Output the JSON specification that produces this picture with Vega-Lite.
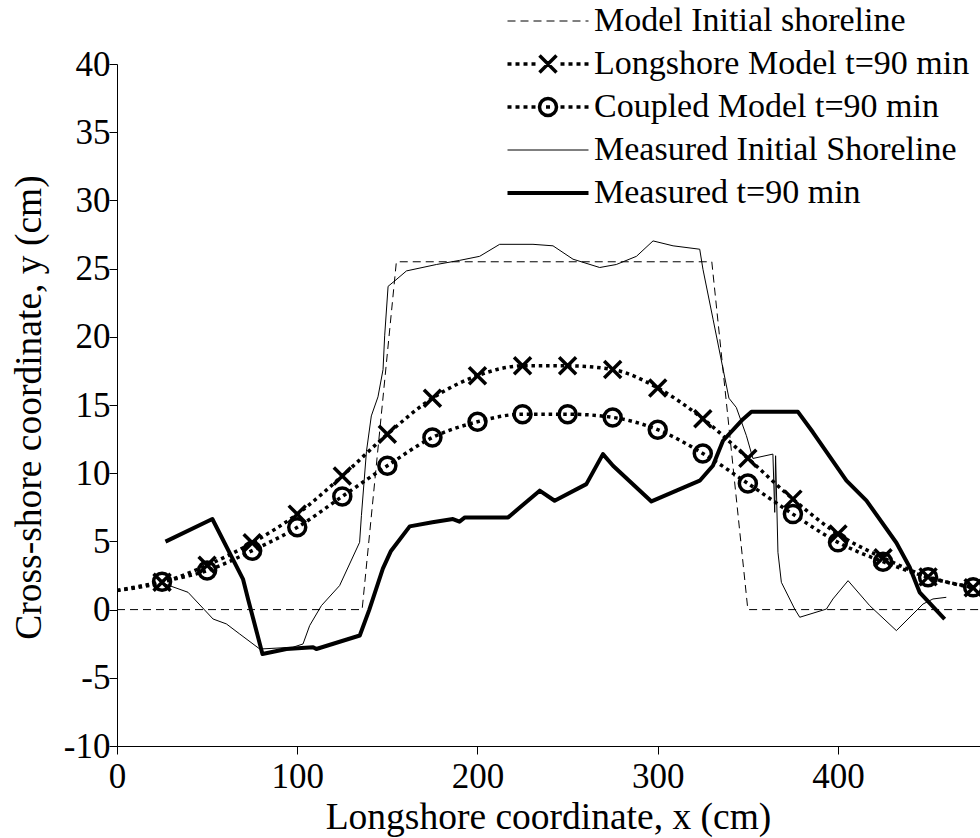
{
  "$schema": "https://vega.github.io/schema/vega-lite/v6.json",
  "autosize": {"type": "none"},
  "padding": {"left": 117, "top": 64, "right": 0, "bottom": 92},
  "width": 863,
  "height": 682,
  "background": "white",
  "config": {
    "view": {"stroke": null},
    "font": "Liberation Serif",
    "axis": {
      "grid": false,
      "domainColor": "black",
      "domainWidth": 1,
      "tickColor": "black",
      "tickWidth": 1,
      "tickSize": 8,
      "labelFont": "Liberation Serif",
      "labelFontSize": 35,
      "labelColor": "black",
      "labelFlush": false,
      "labelOverlap": false,
      "titleFont": "Liberation Serif",
      "titleFontSize": 37.5,
      "titleFontWeight": "normal",
      "titleColor": "black"
    }
  },
  "datasets": {
    "shoreline": [
      {"series": "Model Initial shoreline", "x": 0, "y": 0},
      {"series": "Model Initial shoreline", "x": 136, "y": 0},
      {"series": "Model Initial shoreline", "x": 155, "y": 25.5},
      {"series": "Model Initial shoreline", "x": 330, "y": 25.5},
      {"series": "Model Initial shoreline", "x": 350, "y": 0},
      {"series": "Model Initial shoreline", "x": 479, "y": 0},

      {"series": "Measured Initial Shoreline", "x": 26.5, "y": 1.88},
      {"series": "Measured Initial Shoreline", "x": 39.4, "y": 1.27},
      {"series": "Measured Initial Shoreline", "x": 53.3, "y": -0.69},
      {"series": "Measured Initial Shoreline", "x": 60.7, "y": -1.05},
      {"series": "Measured Initial Shoreline", "x": 68.1, "y": -1.79},
      {"series": "Measured Initial Shoreline", "x": 79.2, "y": -2.89},
      {"series": "Measured Initial Shoreline", "x": 97.6, "y": -2.76},
      {"series": "Measured Initial Shoreline", "x": 103.2, "y": -2.52},
      {"series": "Measured Initial Shoreline", "x": 106.9, "y": -1.17},
      {"series": "Measured Initial Shoreline", "x": 113.4, "y": 0.29},
      {"series": "Measured Initial Shoreline", "x": 123.5, "y": 1.76},
      {"series": "Measured Initial Shoreline", "x": 134.6, "y": 4.93},
      {"series": "Measured Initial Shoreline", "x": 135.6, "y": 6.89},
      {"series": "Measured Initial Shoreline", "x": 138.4, "y": 11.6},
      {"series": "Measured Initial Shoreline", "x": 141.1, "y": 14.2},
      {"series": "Measured Initial Shoreline", "x": 144.8, "y": 15.6},
      {"series": "Measured Initial Shoreline", "x": 147.6, "y": 17.6},
      {"series": "Measured Initial Shoreline", "x": 148.5, "y": 20.07},
      {"series": "Measured Initial Shoreline", "x": 150.4, "y": 23.7},
      {"series": "Measured Initial Shoreline", "x": 154.1, "y": 24.1},
      {"series": "Measured Initial Shoreline", "x": 160.6, "y": 24.83},
      {"series": "Measured Initial Shoreline", "x": 177.2, "y": 25.3},
      {"series": "Measured Initial Shoreline", "x": 190, "y": 25.6},
      {"series": "Measured Initial Shoreline", "x": 201.2, "y": 25.9},
      {"series": "Measured Initial Shoreline", "x": 212.3, "y": 26.78},
      {"series": "Measured Initial Shoreline", "x": 230.8, "y": 26.78},
      {"series": "Measured Initial Shoreline", "x": 241.9, "y": 26.67},
      {"series": "Measured Initial Shoreline", "x": 253, "y": 25.69},
      {"series": "Measured Initial Shoreline", "x": 267.8, "y": 25.08},
      {"series": "Measured Initial Shoreline", "x": 277, "y": 25.3},
      {"series": "Measured Initial Shoreline", "x": 288.2, "y": 25.9},
      {"series": "Measured Initial Shoreline", "x": 297.4, "y": 27.03},
      {"series": "Measured Initial Shoreline", "x": 308.5, "y": 26.67},
      {"series": "Measured Initial Shoreline", "x": 323.3, "y": 26.42},
      {"series": "Measured Initial Shoreline", "x": 325.1, "y": 24.95},
      {"series": "Measured Initial Shoreline", "x": 330.7, "y": 21.29},
      {"series": "Measured Initial Shoreline", "x": 336, "y": 17.8},
      {"series": "Measured Initial Shoreline", "x": 339.5, "y": 15.5},
      {"series": "Measured Initial Shoreline", "x": 343.6, "y": 14.82},
      {"series": "Measured Initial Shoreline", "x": 349.2, "y": 12.75},
      {"series": "Measured Initial Shoreline", "x": 352.8, "y": 11.08},
      {"series": "Measured Initial Shoreline", "x": 363.9, "y": 11.4},
      {"series": "Measured Initial Shoreline", "x": 365.4, "y": 11.28},
      {"series": "Measured Initial Shoreline", "x": 364.9, "y": 7.13},
      {"series": "Measured Initial Shoreline", "x": 366.7, "y": 4.2},
      {"series": "Measured Initial Shoreline", "x": 368.6, "y": 2.0},
      {"series": "Measured Initial Shoreline", "x": 376, "y": 0.04},
      {"series": "Measured Initial Shoreline", "x": 378.8, "y": -0.56},
      {"series": "Measured Initial Shoreline", "x": 393.6, "y": 0.04},
      {"series": "Measured Initial Shoreline", "x": 397.2, "y": 0.78},
      {"series": "Measured Initial Shoreline", "x": 405.6, "y": 2.12},
      {"series": "Measured Initial Shoreline", "x": 417.6, "y": 0.29},
      {"series": "Measured Initial Shoreline", "x": 432.4, "y": -1.54},
      {"series": "Measured Initial Shoreline", "x": 447.2, "y": 0.41},
      {"series": "Measured Initial Shoreline", "x": 452.7, "y": 0.78},
      {"series": "Measured Initial Shoreline", "x": 460.1, "y": 0.9},

      {"series": "Measured t=90 min", "x": 26.9, "y": 4.98},
      {"series": "Measured t=90 min", "x": 52.9, "y": 6.64},
      {"series": "Measured t=90 min", "x": 69.9, "y": 2.24},
      {"series": "Measured t=90 min", "x": 72.7, "y": 0.78},
      {"series": "Measured t=90 min", "x": 80.7, "y": -3.25},
      {"series": "Measured t=90 min", "x": 94, "y": -2.89},
      {"series": "Measured t=90 min", "x": 108.8, "y": -2.76},
      {"series": "Measured t=90 min", "x": 110.6, "y": -2.89},
      {"series": "Measured t=90 min", "x": 134.7, "y": -1.9},
      {"series": "Measured t=90 min", "x": 140, "y": 0},
      {"series": "Measured t=90 min", "x": 147.5, "y": 3.0},
      {"series": "Measured t=90 min", "x": 152, "y": 4.3},
      {"series": "Measured t=90 min", "x": 162.4, "y": 6.1},
      {"series": "Measured t=90 min", "x": 175, "y": 6.4},
      {"series": "Measured t=90 min", "x": 186.4, "y": 6.64},
      {"series": "Measured t=90 min", "x": 190, "y": 6.45},
      {"series": "Measured t=90 min", "x": 193, "y": 6.76},
      {"series": "Measured t=90 min", "x": 217, "y": 6.76},
      {"series": "Measured t=90 min", "x": 234.5, "y": 8.72},
      {"series": "Measured t=90 min", "x": 242.8, "y": 7.98},
      {"series": "Measured t=90 min", "x": 260.4, "y": 9.2},
      {"series": "Measured t=90 min", "x": 269.6, "y": 11.4},
      {"series": "Measured t=90 min", "x": 275.2, "y": 10.55},
      {"series": "Measured t=90 min", "x": 296.5, "y": 7.93},
      {"series": "Measured t=90 min", "x": 323.3, "y": 9.45},
      {"series": "Measured t=90 min", "x": 330.6, "y": 10.55},
      {"series": "Measured t=90 min", "x": 336.2, "y": 12.38},
      {"series": "Measured t=90 min", "x": 347.3, "y": 13.96},
      {"series": "Measured t=90 min", "x": 352, "y": 14.5},
      {"series": "Measured t=90 min", "x": 377.8, "y": 14.5},
      {"series": "Measured t=90 min", "x": 386.1, "y": 13.0},
      {"series": "Measured t=90 min", "x": 404.7, "y": 9.45},
      {"series": "Measured t=90 min", "x": 415.8, "y": 7.99},
      {"series": "Measured t=90 min", "x": 432.4, "y": 4.9},
      {"series": "Measured t=90 min", "x": 439.8, "y": 3.1},
      {"series": "Measured t=90 min", "x": 445.3, "y": 1.27},
      {"series": "Measured t=90 min", "x": 459.2, "y": -0.69}
    ],
    "model": [
      {"series": "Longshore Model t=90 min", "x": 0, "y": 1.4},
      {"series": "Longshore Model t=90 min", "x": 25, "y": 2.0},
      {"series": "Longshore Model t=90 min", "x": 50, "y": 3.25},
      {"series": "Longshore Model t=90 min", "x": 75, "y": 4.9},
      {"series": "Longshore Model t=90 min", "x": 100, "y": 7.0},
      {"series": "Longshore Model t=90 min", "x": 125, "y": 9.8},
      {"series": "Longshore Model t=90 min", "x": 150, "y": 12.86},
      {"series": "Longshore Model t=90 min", "x": 175, "y": 15.5},
      {"series": "Longshore Model t=90 min", "x": 200, "y": 17.15},
      {"series": "Longshore Model t=90 min", "x": 225, "y": 17.87},
      {"series": "Longshore Model t=90 min", "x": 250, "y": 17.87},
      {"series": "Longshore Model t=90 min", "x": 275, "y": 17.6},
      {"series": "Longshore Model t=90 min", "x": 300, "y": 16.25},
      {"series": "Longshore Model t=90 min", "x": 325, "y": 14.0},
      {"series": "Longshore Model t=90 min", "x": 350, "y": 11.1},
      {"series": "Longshore Model t=90 min", "x": 375, "y": 8.1},
      {"series": "Longshore Model t=90 min", "x": 400, "y": 5.54},
      {"series": "Longshore Model t=90 min", "x": 425, "y": 3.8},
      {"series": "Longshore Model t=90 min", "x": 450, "y": 2.4},
      {"series": "Longshore Model t=90 min", "x": 475, "y": 1.6},

      {"series": "Coupled Model t=90 min", "x": 0, "y": 1.4},
      {"series": "Coupled Model t=90 min", "x": 25, "y": 2.05},
      {"series": "Coupled Model t=90 min", "x": 50, "y": 2.86},
      {"series": "Coupled Model t=90 min", "x": 75, "y": 4.32},
      {"series": "Coupled Model t=90 min", "x": 100, "y": 6.03},
      {"series": "Coupled Model t=90 min", "x": 125, "y": 8.3},
      {"series": "Coupled Model t=90 min", "x": 150, "y": 10.55},
      {"series": "Coupled Model t=90 min", "x": 175, "y": 12.62},
      {"series": "Coupled Model t=90 min", "x": 200, "y": 13.77},
      {"series": "Coupled Model t=90 min", "x": 225, "y": 14.33},
      {"series": "Coupled Model t=90 min", "x": 250, "y": 14.33},
      {"series": "Coupled Model t=90 min", "x": 275, "y": 14.09},
      {"series": "Coupled Model t=90 min", "x": 300, "y": 13.19},
      {"series": "Coupled Model t=90 min", "x": 325, "y": 11.45},
      {"series": "Coupled Model t=90 min", "x": 350, "y": 9.25},
      {"series": "Coupled Model t=90 min", "x": 375, "y": 7.0},
      {"series": "Coupled Model t=90 min", "x": 400, "y": 4.93},
      {"series": "Coupled Model t=90 min", "x": 425, "y": 3.51},
      {"series": "Coupled Model t=90 min", "x": 450, "y": 2.37},
      {"series": "Coupled Model t=90 min", "x": 475, "y": 1.63}
    ]
  },
  "encoding": {
    "x": {
      "field": "x", "type": "quantitative",
      "scale": {"domain": [0, 478.8], "nice": false, "zero": false},
      "axis": {
        "values": [0, 100, 200, 300, 400],
        "labelPadding": 5,
        "title": "Longshore coordinate, x (cm)",
        "titleX": 431, "titleY": 82, "titleBaseline": "alphabetic", "titleAlign": "center",
        "encode": {"ticks": {"update": {"y2": {"value": -8}}}}
      }
    },
    "y": {
      "field": "y", "type": "quantitative",
      "scale": {"domain": [-10, 40], "nice": false, "zero": false},
      "axis": {
        "values": [-10, -5, 0, 5, 10, 15, 20, 25, 30, 35, 40],
        "labelExpr": "'' + datum.value",
        "labelPadding": -1,
        "title": "Cross-shore coordinate, y (cm)",
        "titleX": -77, "titleY": 343, "titleAngle": -90, "titleBaseline": "alphabetic", "titleAlign": "center",
        "encode": {"ticks": {"update": {"x2": {"value": 8}}}}
      }
    },
    "color": {
      "field": "series", "type": "nominal",
      "scale": {
        "domain": ["Model Initial shoreline", "Longshore Model t=90 min", "Coupled Model t=90 min", "Measured Initial Shoreline", "Measured t=90 min"],
        "range": ["black", "black", "black", "black", "black"]
      },
      "legend": {
        "orient": "none", "legendX": 414, "legendY": -60,
        "title": null, "padding": 0,
        "symbolSize": 400, "symbolStrokeWidth": 1,
        "labelFont": "Liberation Serif", "labelFontSize": 34, "labelColor": "black",
        "labelOffset": 29, "labelLimit": 0, "rowPadding": 9,
        "encode": {
          "symbols": {
            "update": {
              "shape": {"signal": "datum.value === 'Longshore Model t=90 min' ? 'M-4.05,0H-3.65M-3.25,0H-2.85M-2.45,0H-2.05M-1.65,0H-1.25M1.25,0H1.65M2.05,0H2.45M2.85,0H3.25M3.65,0H4.05M-0.85,-0.85L0.85,0.85M-0.85,0.85L0.85,-0.85' : datum.value === 'Coupled Model t=90 min' ? 'M-4.05,0H-3.65M-3.25,0H-2.85M-2.45,0H-2.05M-1.65,0H-1.25M1.25,0H1.65M2.05,0H2.45M2.85,0H3.25M3.65,0H4.05M0.85,0A0.85,0.85,0,1,1,-0.85,0A0.85,0.85,0,1,1,0.85,0M-0.2,0H0.2' : 'M-4.05,0H4.05'"},
              "strokeWidth": {"signal": "datum.value === 'Model Initial shoreline' || datum.value === 'Measured Initial Shoreline' ? 1 : datum.value === 'Measured t=90 min' ? 4 : 3.5"},
              "strokeDash": {"signal": "datum.value === 'Model Initial shoreline' ? [8, 5] : [1000, 0]"},
              "stroke": {"value": "black"},
              "fill": {"value": "transparent"},
              "strokeCap": {"value": "butt"}
            }
          }
        }
      }
    }
  },
  "layer": [
    {
      "data": {"name": "shoreline"},
      "transform": [{"filter": "datum.series === 'Model Initial shoreline'"}],
      "mark": {"type": "line", "strokeWidth": 1, "strokeDash": [8, 5], "clip": true}
    },
    {
      "data": {"name": "model"},
      "transform": [{"filter": "datum.series === 'Longshore Model t=90 min'"}],
      "mark": {"type": "line", "strokeWidth": 3.5, "strokeDash": [3.5, 3.8], "strokeCap": "butt", "interpolate": "monotone", "clip": true}
    },
    {
      "data": {"name": "model"},
      "transform": [{"filter": "datum.series === 'Longshore Model t=90 min' && datum.x >= 25"}],
      "mark": {"type": "point", "shape": "M-1,-1L1,1M-1,1L1,-1", "size": 289, "filled": false, "strokeWidth": 3.5, "opacity": 1, "clip": true}
    },
    {
      "data": {"name": "model"},
      "transform": [{"filter": "datum.series === 'Coupled Model t=90 min'"}],
      "mark": {"type": "line", "strokeWidth": 3.5, "strokeDash": [3.5, 3.8], "strokeCap": "butt", "interpolate": "monotone", "clip": true}
    },
    {
      "data": {"name": "model"},
      "transform": [{"filter": "datum.series === 'Coupled Model t=90 min' && datum.x >= 25"}],
      "mark": {"type": "point", "shape": "circle", "size": 289, "filled": false, "strokeWidth": 3.5, "opacity": 1, "clip": true}
    },
    {
      "data": {"name": "shoreline"},
      "transform": [{"filter": "datum.series === 'Measured Initial Shoreline'"}],
      "mark": {"type": "line", "strokeWidth": 1, "clip": true}
    },
    {
      "data": {"name": "shoreline"},
      "transform": [{"filter": "datum.series === 'Measured t=90 min'"}],
      "mark": {"type": "line", "strokeWidth": 4, "strokeJoin": "round", "clip": true}
    }
  ]
}
